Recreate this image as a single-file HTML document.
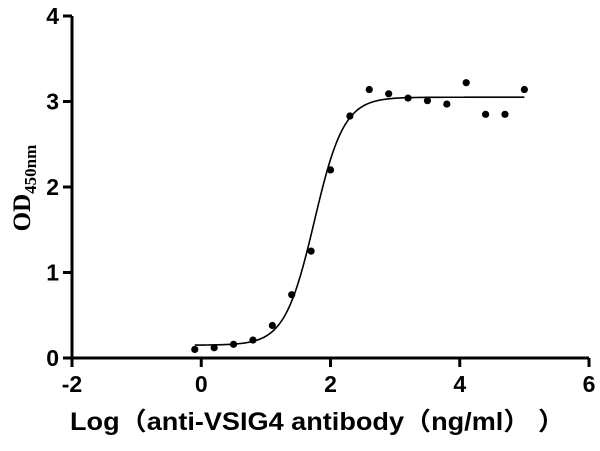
<!DOCTYPE html>
<html><head><meta charset="utf-8"><style>
body{margin:0;background:#fff;width:600px;height:451px;overflow:hidden}
svg{display:block}
</style></head><body>
<svg id="chart" width="600" height="451" xmlns="http://www.w3.org/2000/svg">
<g id="axes"></g>
<g id="marks"></g>
<text transform="translate(30,188) rotate(-90)" text-anchor="middle" font-family="Liberation Serif, serif" font-weight="bold" font-size="25">OD<tspan font-size="17" dy="6">450nm</tspan></text>
<text x="70" y="430" textLength="495" lengthAdjust="spacingAndGlyphs" font-family="Liberation Sans, 'Noto Sans CJK SC', sans-serif" font-weight="bold" font-size="25">Log（anti-VSIG4 antibody（ng/ml）  ）</text>
</svg>
<script>
const xTicks=[-2,0,2,4,6];
const yTicks=[0,1,2,3,4];
const logConc=[-0.1,0.2,0.5,0.8,1.1,1.4,1.7,2.0,2.3,2.6,2.9,3.2,3.5,3.8,4.1,4.4,4.7,5.0];
const odValues=[0.1,0.12,0.16,0.21,0.38,0.74,1.25,2.2,2.83,3.14,3.09,3.04,3.01,2.97,3.22,2.85,2.85,3.14];
const fitBottom=0.15, fitTop=3.05, fitLogEC50=1.75, fitHill=1.9;
const NS="http://www.w3.org/2000/svg";
const X0=72,X1=589,Y0=358,Y1=16;
const sx=v=>X0+(v+2)/8*(X1-X0);
const sy=v=>Y0-(v/4)*(Y0-Y1);
function mk(tag,attrs,parent){const e=document.createElementNS(NS,tag);for(const k in attrs)e.setAttribute(k,attrs[k]);parent.appendChild(e);return e;}
const axes=document.getElementById('axes'),marks=document.getElementById('marks');
let a=mk('line',{x1:X0,y1:Y1,x2:X0,y2:Y0+1.5,stroke:'#000','stroke-width':3},axes);


a=mk('line',{x1:X0-1.5,y1:Y0,x2:X1,y2:Y0,stroke:'#000','stroke-width':3},axes);


xTicks.forEach(t=>{
 const tk=mk('line',{x1:sx(t),y1:Y0,x2:sx(t),y2:Y0+9,stroke:'#000','stroke-width':3},axes);
 
 
 const tl=mk('text',{x:sx(t),y:Y0+34,'text-anchor':'middle','font-family':'Liberation Sans, sans-serif','font-weight':'bold','font-size':23},axes);
 tl.textContent=t;
 
 
});
yTicks.forEach(t=>{
 const tk=mk('line',{x1:X0-9,y1:sy(t),x2:X0,y2:sy(t),stroke:'#000','stroke-width':3},axes);
 
 
 const tl=mk('text',{x:X0-13,y:sy(t)+8,'text-anchor':'end','font-family':'Liberation Sans, sans-serif','font-weight':'bold','font-size':23},axes);
 tl.textContent=t;
 
 
});
const xmin=Math.min(...logConc),xmax=Math.max(...logConc);
let d='';
for(let i=0;i<=200;i++){const x=xmin+(xmax-xmin)*i/200;const y=fitBottom+(fitTop-fitBottom)/(1+Math.pow(10,(fitLogEC50-x)*fitHill));d+=(i?'L':'M')+sx(x).toFixed(2)+','+sy(y).toFixed(2);}
const c=mk('path',{d:d,fill:'none',stroke:'#000','stroke-width':1.6},marks);


logConc.forEach((x,i)=>{
 const p=mk('circle',{cx:sx(x),cy:sy(odValues[i]),r:3.6,fill:'#000'},marks);
 
 
});
</script>
</body></html>
